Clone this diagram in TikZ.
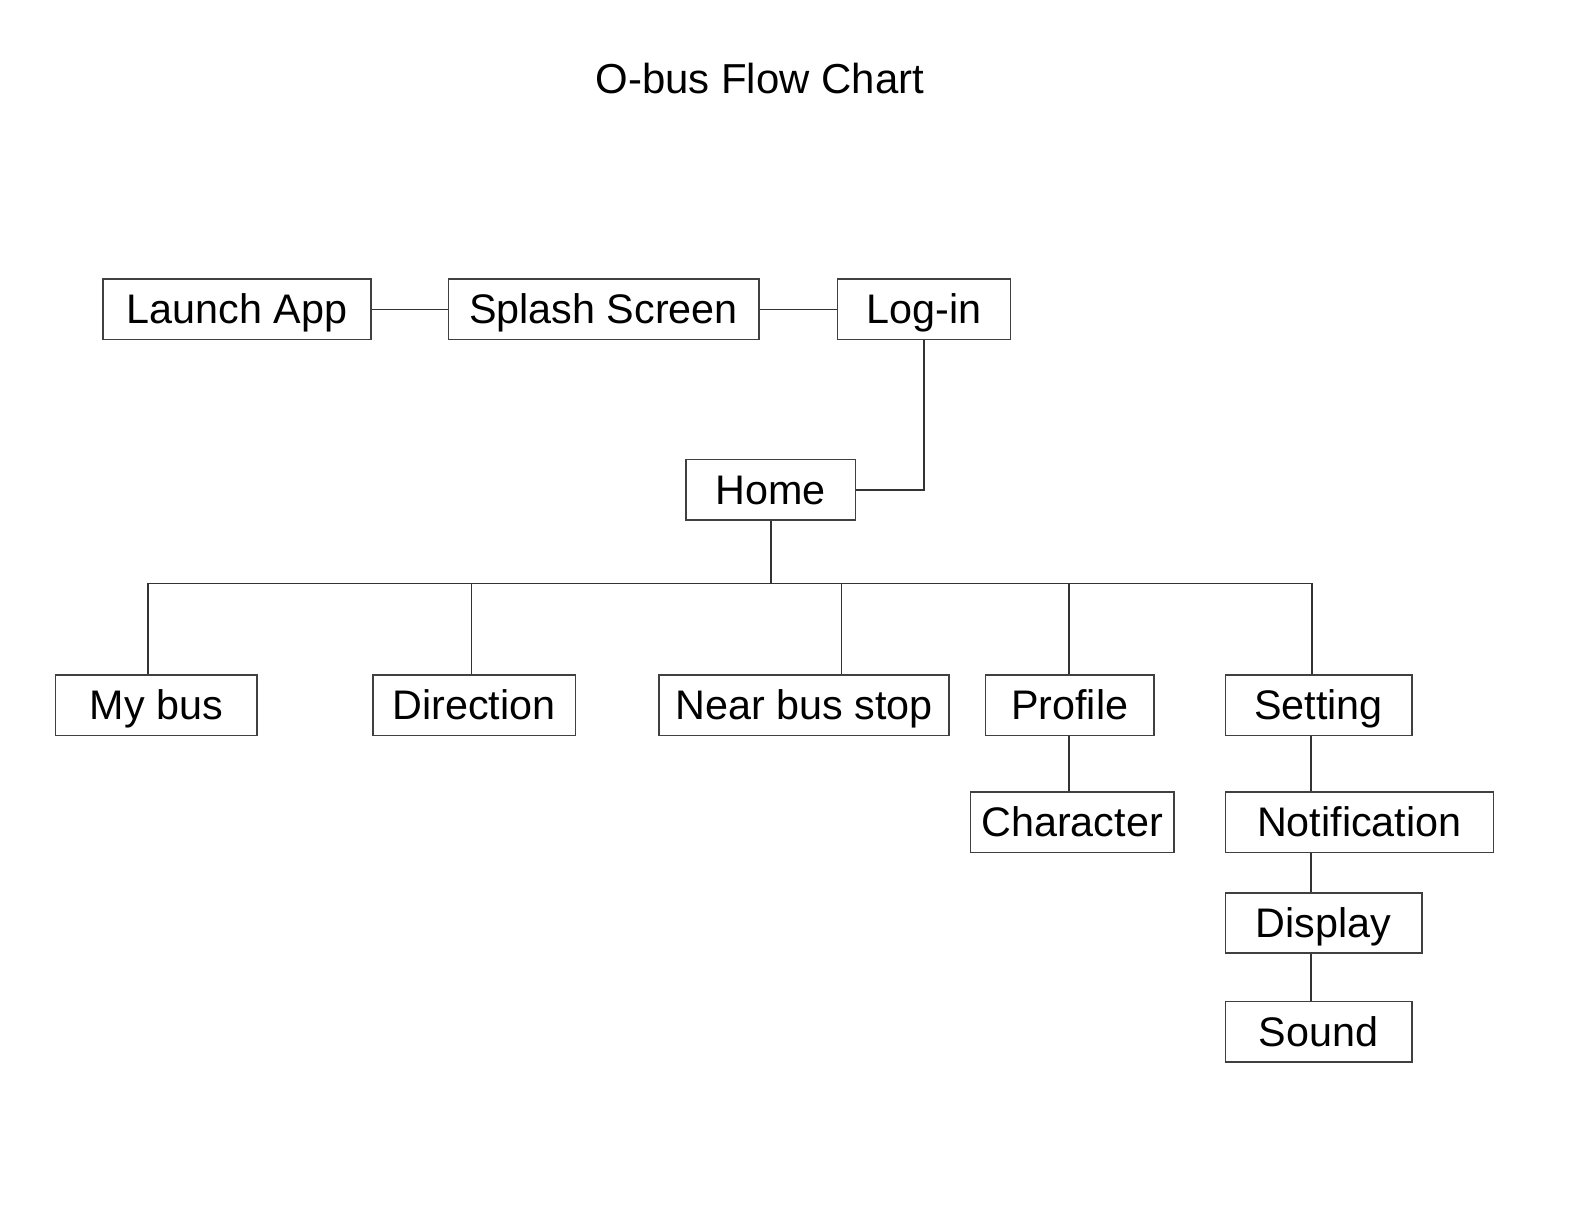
\documentclass[tikz,border=0pt]{standalone}
\usepackage{fontspec}
\setmainfont{Liberation Sans}
\usepackage{tikz}
\usetikzlibrary{positioning}

\begin{document}
\begin{tikzpicture}[x=0.5pt,y=-0.5pt,
        screen/.style={draw=black!75,line width=0.8pt,inner sep=0pt,minimum height=30pt,
            text height=14.5pt,text depth=0pt,font=\fontsize{20.5}{24}\selectfont},
        link/.style={draw=black!80,line width=0.8pt}]
        \useasboundingbox (0,0) rectangle (1568,1197);

        % title
        \node[font=\fontsize{20.8}{24}\selectfont] (title) at (754,78) {O-bus Flow Chart};

        % start row
        \node[screen,minimum width=133pt] (launch) at (235,307) {Launch App};
        \node[screen,minimum width=154pt] (splash) at (599,307) {Splash Screen};
        \node[screen,minimum width=86pt] (login) at (917,307) {Log-in};
        \node[screen,minimum width=84pt] (home) at (765,486) {Home};

        % menu row
        \node[screen,minimum width=100pt] (mybus) at (155,700) {My bus};
        \node[screen,minimum width=100.5pt] (direction) at (470.5,700) {Direction};
        \node[screen,minimum width=144pt] (nearstop) at (798,700) {Near bus stop};
        \node[screen,minimum width=83.5pt] (profile) at (1061.5,700) {Profile};
        \node[screen,minimum width=92.5pt] (setting) at (1308.5,700) {Setting};

        % sub screens
        \node[screen,minimum width=101pt] (character) at (1064,816) {Character};
        \node[screen,minimum width=133pt] (notif) at (1349,816) {Notification};
        \node[screen,minimum width=97.5pt] (display) at (1313.5,916) {Display};
        \node[screen,minimum width=92.5pt] (sound) at (1308.5,1024) {Sound};

        \coordinate (b1) at (147,579);
        \coordinate (b2) at (468,579);
        \coordinate (b3) at (835,579);
        \coordinate (b4) at (1061,579);
        \coordinate (b5) at (1302,579);
        \coordinate (sx) at (1301,0);

        \draw[link] (launch.east) -- (splash.west);
        \draw[link] (splash.east) -- (login.west);
        \draw[link] (login.south) |- (home.east);
        \draw[link] (home.south) -- (home.south |- b1);
        \draw[link] (b1) -- (b5);
        \draw[link] (b1) -- (b1 |- mybus.north);
        \draw[link] (b2) -- (b2 |- direction.north);
        \draw[link] (b3) -- (b3 |- nearstop.north);
        \draw[link] (b4) -- (b4 |- profile.north);
        \draw[link] (b5) -- (b5 |- setting.north);

        \draw[link] (profile.south -| b4) -- (character.north -| b4);
        \draw[link] (setting.south -| sx) -- (notif.north -| sx);
        \draw[link] (notif.south -| sx) -- (display.north -| sx);
        \draw[link] (display.south -| sx) -- (sound.north -| sx);
    \end{tikzpicture}
\end{document}
